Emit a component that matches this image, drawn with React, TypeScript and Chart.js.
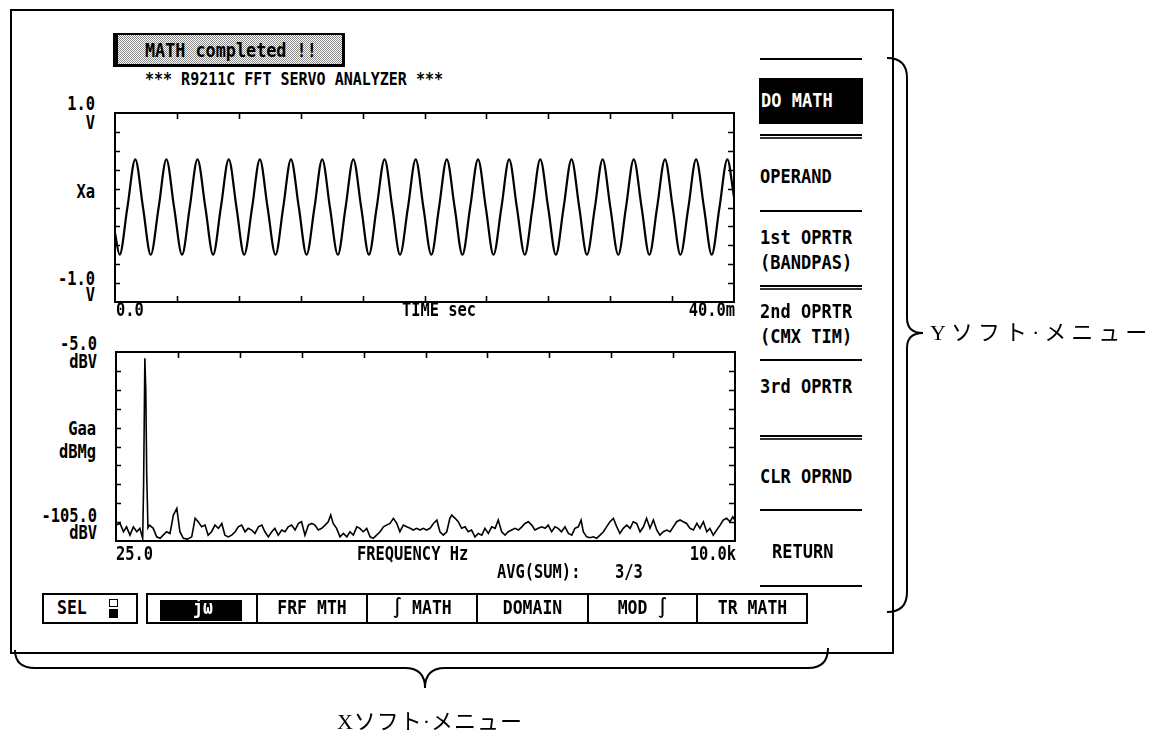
import React, { useEffect, useRef } from 'react';
import { Chart, registerables } from 'chart.js';

Chart.register(...registerables);

// ---------- DATA ----------
// Time trace (Xa), ms / V : troughs, zero crossings and peaks read from the screen
const timeMs = [
  0, 0.30, 0.80, 1.31, 1.81, 2.31, 2.82, 3.32, 3.82, 4.33, 4.83, 5.33, 5.84, 6.34, 6.84, 7.35, 7.85,
  8.35, 8.86, 9.36, 9.86, 10.37, 10.87, 11.37, 11.88, 12.38, 12.89, 13.39, 13.89, 14.40, 14.90, 15.40,
  15.91, 16.41, 16.91, 17.42, 17.92, 18.42, 18.93, 19.43, 19.93, 20.44, 20.94, 21.44, 21.95, 22.45,
  22.95, 23.46, 23.96, 24.46, 24.97, 25.47, 25.97, 26.48, 26.98, 27.48, 27.99, 28.49, 28.99, 29.50,
  30.00, 30.50, 31.01, 31.51, 32.01, 32.52, 33.02, 33.52, 34.03, 34.53, 35.03, 35.54, 36.04, 36.54,
  37.05, 37.55, 38.06, 38.56, 39.06, 39.57, 40.0,
];
const xaVolts = [
  -0.27,
  -0.50, 0, 0.51, 0, -0.50, 0, 0.51, 0, -0.50, 0, 0.51, 0, -0.50, 0, 0.51, 0,
  -0.50, 0, 0.51, 0, -0.50, 0, 0.51, 0, -0.50, 0, 0.51, 0, -0.50, 0, 0.51, 0,
  -0.50, 0, 0.51, 0, -0.50, 0, 0.51, 0, -0.50, 0, 0.51, 0, -0.50, 0, 0.51, 0,
  -0.50, 0, 0.51, 0, -0.50, 0, 0.51, 0, -0.50, 0, 0.51, 0, -0.50, 0, 0.51, 0,
  -0.50, 0, 0.51, 0, -0.50, 0, 0.51, 0, -0.50, 0, 0.51, 0,
  -0.50, 0, 0.51,
  0.11,
];
const timeTicks = [4, 8, 12, 16, 20, 24, 28, 32, 36];
const voltTicks = [-0.8, -0.6, -0.4, -0.2, 0, 0.2, 0.4, 0.6, 0.8];

// Spectrum Gaa, Hz / dBV
const freqHz = [
  25, 90, 145, 195, 250, 305, 360, 410, 455, 470, 490, 505, 520, 540, 565, 625, 680, 735, 785, 840,
  895, 950, 1005, 1055, 1110, 1175, 1245, 1300, 1350, 1405, 1460, 1510, 1565, 1620, 1675, 1730, 1780,
  1835, 1890, 1945, 1995, 2050, 2105, 2155, 2210, 2265, 2320, 2375, 2425, 2480, 2535, 2585, 2640, 2695,
  2750, 2800, 2855, 2910, 2965, 3015, 3070, 3125, 3180, 3230, 3285, 3340, 3395, 3445, 3485, 3525, 3580,
  3635, 3690, 3745, 3795, 3850, 3905, 3955, 4010, 4065, 4120, 4170, 4225, 4280, 4335, 4385, 4440, 4495,
  4550, 4600, 4655, 4710, 4765, 4815, 4870, 4925, 4975, 5030, 5085, 5140, 5195, 5245, 5300, 5355, 5405,
  5435, 5490, 5540, 5595, 5650, 5700, 5755, 5810, 5865, 5920, 5970, 6025, 6080, 6135, 6185, 6240, 6295,
  6345, 6400, 6455, 6510, 6565, 6615, 6670, 6725, 6775, 6830, 6885, 6940, 6990, 7045, 7100, 7150, 7205,
  7260, 7315, 7370, 7420, 7475, 7520, 7555, 7610, 7665, 7715, 7770, 7825, 7880, 7930, 7985, 8040, 8095,
  8145, 8200, 8255, 8310, 8360, 8415, 8470, 8525, 8575, 8630, 8685, 8740, 8790, 8845, 8900, 8955, 9005,
  9060, 9115, 9165, 9220, 9275, 9330, 9385, 9435, 9490, 9545, 9595, 9650, 9705, 9760, 9810, 9865, 9920,
  9965, 10000,
];
const gaaDbv = [
  -96.6, -95.7, -100.1, -97.5, -101.9, -97.5, -100.1, -98.3, -103.6, -75, -8.3, -25, -70, -98, -96.6,
  -98.3, -102.8, -103.6, -101.9, -100.1, -101.0, -91.3, -87.8, -100.1, -103.6, -104.0, -102.8, -93.0,
  -94.8, -97.5, -96.6, -101.9, -100.1, -96.6, -98.3, -95.7, -101.9, -102.8, -101.9, -100.1, -97.5,
  -96.6, -100.1, -98.3, -99.2, -101.0, -97.5, -96.6, -100.1, -102.8, -100.1, -98.3, -101.9, -99.2,
  -100.1, -97.5, -96.6, -99.2, -95.7, -94.8, -101.9, -96.6, -95.7, -96.6, -99.2, -98.3, -96.6, -94.8,
  -91.3, -95.7, -98.3, -102.8, -101.0, -102.8, -100.1, -101.9, -97.5, -98.3, -100.1, -98.3, -102.8,
  -103.6, -101.9, -100.1, -97.5, -96.6, -95.7, -93.0, -95.7, -100.1, -96.6, -97.5, -98.3, -99.2,
  -98.3, -99.2, -98.3, -99.2, -98.3, -95.7, -93.9, -100.1, -101.9, -100.1, -93.0, -91.3, -93.0, -94.8,
  -98.3, -97.5, -100.1, -99.2, -102.8, -101.0, -101.9, -98.3, -101.0, -97.5, -98.3, -93.9, -100.1,
  -101.9, -100.1, -99.2, -98.3, -99.2, -97.5, -95.7, -94.8, -96.6, -99.2, -98.3, -97.5, -98.3, -96.6,
  -100.1, -97.5, -98.3, -100.1, -97.5, -101.0, -101.9, -98.3, -97.5, -93.9, -100.1, -102.8, -103.3,
  -102.8, -103.6, -101.9, -100.1, -97.5, -94.8, -93.0, -97.5, -101.0, -98.3, -96.6, -98.3, -94.8,
  -95.7, -100.1, -97.5, -93.0, -98.3, -93.9, -99.2, -101.9, -100.1, -99.2, -100.1, -97.5, -94.8,
  -93.9, -94.8, -95.7, -98.3, -99.2, -95.7, -98.3, -94.8, -100.1, -98.3, -101.9, -99.2, -96.6, -93.9,
  -93.0, -94.8, -92.2, -94.0,
];
const freqTicks = [1022.5, 2020, 3017.5, 4015, 5012.5, 6010, 7007.5, 8005, 9002.5];
const dbTicks = [-95, -85, -75, -65, -55, -45, -35, -25, -15];

const rightMenu = ['OPERAND', '1st OPRTR', '(BANDPAS)', '2nd OPRTR', '(CMX TIM)', '3rd OPRTR', 'CLR OPRND', 'RETURN'];
const bottomMenu = ['jω', 'FRF MTH', '∫ MATH', 'DOMAIN', 'MOD ∫', 'TR MATH'];

// ---------- helpers ----------
const PAD = 4;
const MONO = '"DejaVu Sans Mono", "Liberation Mono", monospace';
const SERIF = '"Liberation Serif", "Noto Sans CJK JP", serif';

const framePlugin = {
  id: 'scopeFrame',
  afterDatasetsDraw(chart: any, _args: any, opts: any) {
    const { ctx, chartArea: a, scales } = chart;
    ctx.save();
    ctx.strokeStyle = '#000';
    ctx.lineWidth = 2;
    ctx.strokeRect(a.left, a.top, a.right - a.left, a.bottom - a.top);
    ctx.lineWidth = 1.6;
    ctx.beginPath();
    for (const v of opts.xTicks) {
      const px = Math.round(scales.x.getPixelForValue(v)) + 0.5;
      ctx.moveTo(px, a.top);
      ctx.lineTo(px, a.top + opts.len);
      if (opts.bottom) {
        ctx.moveTo(px, a.bottom);
        ctx.lineTo(px, a.bottom - opts.len);
      }
    }
    for (const v of opts.yTicks) {
      const py = Math.round(scales.y.getPixelForValue(v)) + 0.5;
      ctx.moveTo(a.left, py);
      ctx.lineTo(a.left + opts.len - 1, py);
      ctx.moveTo(a.right, py);
      ctx.lineTo(a.right - opts.len, py);
    }
    ctx.stroke();
    ctx.restore();
  },
};

function Plot({ left, top, width, height, make }: any) {
  const ref = useRef<HTMLCanvasElement | null>(null);
  useEffect(() => {
    const chart = new Chart(ref.current as HTMLCanvasElement, make());
    return () => chart.destroy();
  }, []);
  return (
    <canvas
      ref={ref}
      width={width + 2 * PAD}
      height={height + 2 * PAD}
      style={{ position: 'absolute', left: left - PAD, top: top - PAD, width: width + 2 * PAD, height: height + 2 * PAD }}
    />
  );
}

function baseOptions(xMin: number, xMax: number, yMin: number, yMax: number, frame: any) {
  return {
    responsive: false,
    maintainAspectRatio: false,
    animation: false,
    devicePixelRatio: 1,
    events: [],
    layout: { padding: PAD },
    scales: {
      x: { type: 'linear', min: xMin, max: xMax, display: false },
      y: { type: 'linear', min: yMin, max: yMax, display: false },
    },
    plugins: { legend: { display: false }, tooltip: { enabled: false }, scopeFrame: frame },
  };
}

function makeTimeChart() {
  return {
    type: 'line',
    data: {
      datasets: [
        {
          data: timeMs.map((t, i) => ({ x: t, y: xaVolts[i] })),
          borderColor: '#000',
          borderWidth: 2.2,
          pointRadius: 0,
          fill: false,
          cubicInterpolationMode: 'monotone',
        },
      ],
    },
    options: baseOptions(0, 40, -1, 1, { xTicks: timeTicks, yTicks: voltTicks, len: 6, bottom: true }),
    plugins: [framePlugin],
  } as any;
}

function makeSpecChart() {
  return {
    type: 'line',
    data: {
      datasets: [
        {
          data: freqHz.map((f, i) => ({ x: f, y: gaaDbv[i] })),
          borderColor: '#000',
          borderWidth: 1.6,
          pointRadius: 0,
          fill: false,
          tension: 0,
        },
      ],
    },
    options: baseOptions(25, 10000, -105, -5, { xTicks: freqTicks, yTicks: dbTicks, len: 6, bottom: false }),
    plugins: [framePlugin],
  } as any;
}

function T({ x, y, children, size = 15.4, weight = 'bold', anchor = 'left', sy = 1.25, color = '#000', spacing = 0, family = MONO }: any) {
  const tx = anchor === 'left' ? '0' : anchor === 'right' ? '-100%' : '-50%';
  return (
    <div
      style={{
        position: 'absolute',
        left: x,
        top: y,
        transform: `translate(${tx}, -50%) scaleY(${sy})`,
        fontFamily: family,
        fontSize: size,
        fontWeight: weight as any,
        lineHeight: 1,
        whiteSpace: 'pre',
        color,
        letterSpacing: spacing,
      }}
    >
      {children}
    </div>
  );
}

function R({ x, y, w, h, c = '#000' }: any) {
  return <div style={{ position: 'absolute', left: x, top: y, width: w, height: h, background: c }} />;
}

export default function App() {
  const menuX = 760;
  const menuYs = [177, 238, 263, 312, 337, 387, 477, 552];
  const seps: [number, boolean][] = [
    [58, false], [134, true], [210, false], [285, true], [359, false], [435, true], [509, false], [585, false],
  ];
  const segEdges = [146, 257, 367, 477, 588, 697, 808];

  return (
    <div style={{ position: 'absolute', left: 0, top: 0, width: 1157, height: 740, background: '#fff', overflow: 'hidden' }}>
      {/* outer screen frame */}
      <div style={{ position: 'absolute', left: 10, top: 9, width: 884, height: 645, border: '2px solid #000', boxSizing: 'border-box' }} />

      {/* message box */}
      <div
        style={{
          position: 'absolute', left: 113, top: 33, width: 232, height: 34, boxSizing: 'border-box',
          borderStyle: 'solid', borderColor: '#000', borderWidth: '2px 3px 3px 5px',
          background: 'repeating-conic-gradient(#8a8a8a 0% 25%, #ffffff 0% 50%) 0 0 / 2px 2px',
        }}
      />
      <T x={145} y={50} size={16.8} sy={1.2}>MATH completed !!</T>
      <T x={145} y={80} size={15} sy={1.2}>*** R9211C FFT SERVO ANALYZER ***</T>

      {/* time plot */}
      <Plot left={115} top={113} width={619} height={189} make={makeTimeChart} />
      <T x={95} y={105} anchor="right">1.0</T>
      <T x={95} y={124} anchor="right">V</T>
      <T x={95} y={193} anchor="right">Xa</T>
      <T x={95} y={280} anchor="right">-1.0</T>
      <T x={95} y={296} anchor="right">V</T>
      <T x={116} y={311}>0.0</T>
      <T x={402} y={311}>TIME sec</T>
      <T x={735} y={311} anchor="right">40.0m</T>

      {/* spectrum plot */}
      <Plot left={116} top={352} width={619} height={189} make={makeSpecChart} />
      <T x={97} y={345} anchor="right">-5.0</T>
      <T x={97} y={363} anchor="right">dBV</T>
      <T x={96} y={430} anchor="right">Gaa</T>
      <T x={96} y={453} anchor="right">dBMg</T>
      <T x={97} y={517} anchor="right">-105.0</T>
      <T x={97} y={534} anchor="right">dBV</T>
      <T x={116} y={555}>25.0</T>
      <T x={357} y={555}>FREQUENCY Hz</T>
      <T x={736} y={555} anchor="right">10.0k</T>
      <T x={497} y={573}>AVG(SUM):</T>
      <T x={615} y={573}>3/3</T>

      {/* right soft menu */}
      <R x={759} y={78} w={104} h={46} />
      <T x={761} y={101} size={17} sy={1.1} color="#fff">DO MATH</T>
      {seps.map(([y, dbl], i) => (
        <React.Fragment key={i}>
          <R x={760} y={y} w={102} h={2} />
          {dbl ? <R x={760} y={y + 3} w={102} h={2} c="#333" /> : null}
        </React.Fragment>
      ))}
      {rightMenu.map((s, i) => (
        <T key={s} x={s === 'RETURN' ? 772 : menuX} y={menuYs[i]} size={17} sy={1.1}>{s}</T>
      ))}

      {/* bottom soft menu */}
      <div style={{ position: 'absolute', left: 42, top: 593, width: 96, height: 31, border: '2px solid #000', boxSizing: 'border-box' }} />
      <T x={57} y={609} size={16.5} sy={1.15}>SEL</T>
      <div style={{ position: 'absolute', left: 109, top: 599, width: 9, height: 8, border: '1.5px solid #000', boxSizing: 'border-box' }} />
      <R x={109} y={609} w={9} h={9} />
      <div style={{ position: 'absolute', left: 146, top: 593, width: 662, height: 31, border: '2px solid #000', boxSizing: 'border-box' }} />
      {segEdges.slice(1, -1).map((x) => (
        <R key={x} x={x - 1} y={593} w={2} h={31} />
      ))}
      <R x={160} y={600} w={82} h={21} />
      {bottomMenu.map((s, i) => {
        const cx = (segEdges[i] + segEdges[i + 1]) / 2;
        return (
          <T key={s} x={i === 0 ? 203 : cx} y={609} anchor="center" size={16.5} sy={1.15} color={i === 0 ? '#fff' : '#000'}>
            {s}
          </T>
        );
      })}

      {/* braces */}
      <svg width={1157} height={740} style={{ position: 'absolute', left: 0, top: 0 }}>
        <path
          d="M 887 58 Q 907 58 907 78 L 907 318 Q 907 333 923 333 Q 907 333 907 348 L 907 592 Q 907 612 887 612"
          fill="none" stroke="#000" strokeWidth={2}
        />
        <path
          d="M 15 650 Q 15 668 35 668 L 405 668 Q 425 668 425 688 Q 425 668 445 668 L 808 668 Q 828 668 828 648"
          fill="none" stroke="#000" strokeWidth={2}
        />
      </svg>
      <T x={930} y={333} size={22} sy={1} weight="normal" family={SERIF} spacing={5}>Yソフト·メニュー</T>
      <T x={430} y={722} size={22} sy={1} weight="normal" family={SERIF} spacing={1} anchor="center">Xソフト·メニュー</T>
    </div>
  );
}
